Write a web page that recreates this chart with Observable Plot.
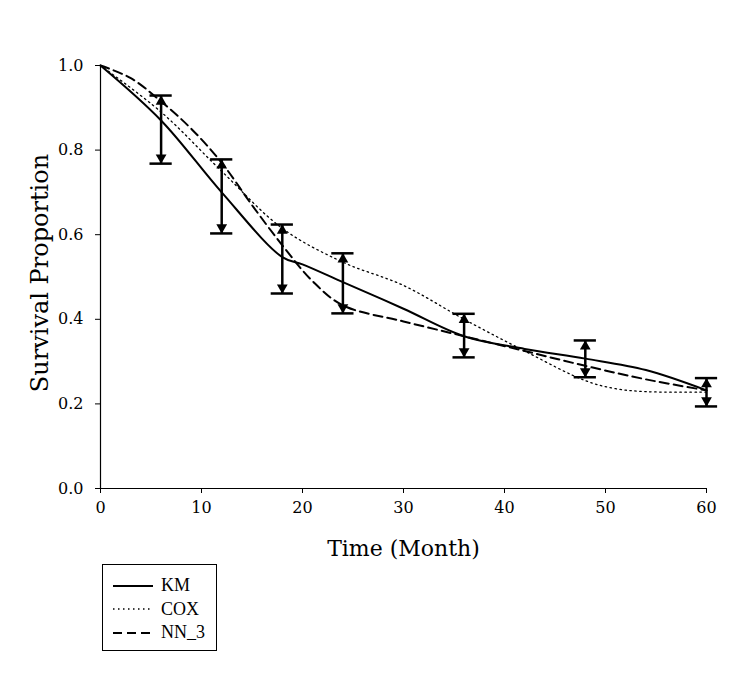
<!DOCTYPE html>
<html>
<head>
<meta charset="utf-8">
<script src="https://cdn.jsdelivr.net/npm/d3@7"></script>
<script src="https://cdn.jsdelivr.net/npm/@observablehq/plot@0.6"></script>
<style>
  body { margin: 0; background: #fff; font-family: "Liberation Serif", serif; }
  #chart { width: 746px; }
  #chart svg { display: block; }
  #legend { margin-left: 102px; margin-top: 4px; width: 115px; height: 87px; border: 1.5px solid #000; box-sizing: border-box; padding-top: 9px; }
  .row { display: flex; align-items: center; height: 23.5px; margin-left: 10px; font-size: 18px; font-family: "Liberation Serif", serif; }
  .row svg { margin-right: 8px; }
</style>
</head>
<body>
<div id="chart"></div>
<script>
// Kaplan-Meier (solid)
const kmTime = [0, 6, 12, 18, 20, 24, 30, 36, 42, 48, 54, 60];
const kmSurv = [1.0, 0.87, 0.70, 0.547, 0.53, 0.488, 0.425, 0.36, 0.33, 0.307, 0.28, 0.232];
// Cox (dotted)
const coxTime = [0, 6, 12, 18, 24, 30, 36, 42, 48, 51, 54, 60];
const coxSurv = [1.0, 0.89, 0.75, 0.615, 0.535, 0.48, 0.40, 0.325, 0.255, 0.236, 0.229, 0.228];
// NN_3 (dashed)
const nnTime = [0, 3, 6, 9, 12, 15, 18, 21, 24, 30, 36, 42, 48, 54, 60];
const nnSurv = [1.0, 0.97, 0.915, 0.85, 0.77, 0.67, 0.575, 0.49, 0.433, 0.395, 0.36, 0.325, 0.29, 0.258, 0.232];
// Error bars
const errTime = [6, 12, 18, 24, 36, 48, 60];
const errLow  = [0.768, 0.603, 0.461, 0.414, 0.310, 0.263, 0.194];
const errHigh = [0.929, 0.778, 0.624, 0.556, 0.413, 0.350, 0.261];
const legendLabels = ["KM", "COX", "NN_3"];
const xTicks = [0, 10, 20, 30, 40, 50, 60];
const yTicks = [0, 0.2, 0.4, 0.6, 0.8, 1.0];

const km = kmTime.map((t, i) => ({t, s: kmSurv[i]}));
const cox = coxTime.map((t, i) => ({t, s: coxSurv[i]}));
const nn = nnTime.map((t, i) => ({t, s: nnSurv[i]}));
const err = errTime.map((t, i) => ({t, lo: errLow[i], hi: errHigh[i]}));

const serif = "'DejaVu Serif', serif";
const plot = Plot.plot({
  width: 746,
  height: 560,
  marginLeft: 100,
  marginRight: 40,
  marginTop: 65,
  marginBottom: 72,
  style: {fontFamily: serif, color: "#000", background: "#fff"},
  x: {domain: [0, 60]},
  y: {domain: [0, 1]},
  marks: [
    Plot.axisX({ticks: xTicks, tickSize: 5, tickPadding: 8, fontSize: 16, fontFamily: serif, label: null}),
    Plot.axisY({ticks: yTicks, tickFormat: d3.format(".1f"), tickSize: 5, tickPadding: 12, fontSize: 16, fontFamily: serif, label: null}),
    Plot.text(["Time (Month)"], {frameAnchor: "bottom", dy: 60, lineAnchor: "middle", fontSize: 22, fontFamily: serif, fill: "#000"}),
    Plot.text(["Survival Proportion"], {frameAnchor: "left", textAnchor: "middle", dx: -60, dy: -4, rotate: -90, fontSize: 24, fontFamily: serif, fill: "#000"}),
    Plot.ruleX([0], {stroke: "#000", strokeWidth: 1.2}),
    Plot.ruleY([0], {stroke: "#000", strokeWidth: 1.2}),
    Plot.line(cox, {x: "t", y: "s", curve: "catmull-rom", stroke: "#000", strokeWidth: 1.3, strokeDasharray: "1.5,3.5"}),
    Plot.line(nn, {x: "t", y: "s", curve: "catmull-rom", stroke: "#000", strokeWidth: 2, strokeDasharray: "9,5"}),
    Plot.line(km, {x: "t", y: "s", curve: "catmull-rom", stroke: "#000", strokeWidth: 2}),
    Plot.ruleX(err, {x: "t", y1: "lo", y2: "hi", stroke: "#000", strokeWidth: 2.5}),
    Plot.dot(err, {x: "t", y: "hi", dy: 6, symbol: "triangle", r: 4, fill: "#000"}),
    Plot.dot(err, {x: "t", y: "lo", dy: -6, symbol: "triangle", rotate: 180, r: 4, fill: "#000"}),
    Plot.ruleY(err, {y: "hi", x1: d => d.t - 1.1, x2: d => d.t + 1.1, stroke: "#000", strokeWidth: 2.5}),
    Plot.ruleY(err, {y: "lo", x1: d => d.t - 1.1, x2: d => d.t + 1.1, stroke: "#000", strokeWidth: 2.5})
  ]
});
document.getElementById("chart").appendChild(plot);

const legend = document.createElement("div");
legend.id = "legend";
const dashes = ["none", "1.5,3.5", "9,5"];
const widths = [2, 1.3, 2];
legendLabels.forEach((lab, i) => {
  const row = document.createElement("div");
  row.className = "row";
  row.innerHTML = '<svg width="40" height="8"><line x1="0" y1="4" x2="40" y2="4" stroke="#000" stroke-width="' + widths[i] + '" stroke-dasharray="' + dashes[i] + '"/></svg><span>' + lab + '</span>';
  legend.appendChild(row);
});
document.getElementById("chart").appendChild(legend);
</script>
</body>
</html>
